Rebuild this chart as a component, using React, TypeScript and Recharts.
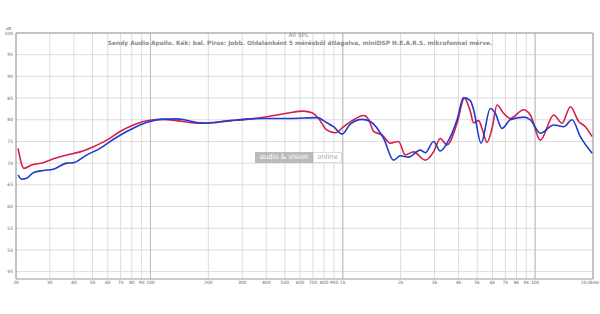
import React from 'react';
import { LineChart, Line, XAxis, YAxis, CartesianGrid, ReferenceLine } from 'recharts';

// Kék: bal (left), Piros: jobb (right) — [Hz, dB]
const leftFreqs = [20.5, 21.4, 22.7, 24.6, 27.7, 31.3, 36.7, 39.7, 46.7, 54.7, 64.2, 75.3, 88.3, 99.5, 112, 137, 181, 196, 260, 387, 533, 735, 828, 896, 991, 1094, 1259, 1390, 1630, 1837, 1991, 2199, 2530, 2686, 2966, 3215, 3484, 3927, 4248, 4604, 4789, 5236, 5850, 6209, 6730, 7431, 8720, 9441, 10645, 12500, 14090, 15570, 17190, 19790];
const leftDb = [67.3, 66.3, 66.5, 67.8, 68.3, 68.6, 70.0, 70.1, 71.9, 73.4, 75.5, 77.3, 78.8, 79.6, 80.1, 80.2, 79.3, 79.2, 79.8, 80.3, 80.3, 80.5, 79.3, 78.4, 76.7, 79.0, 80.1, 79.6, 75.7, 70.7, 71.7, 71.4, 73.0, 72.4, 75.0, 72.8, 74.6, 80.0, 85.1, 84.4, 82.3, 74.6, 82.6, 81.5, 78.0, 80.0, 80.6, 80.0, 76.9, 78.8, 78.4, 80.0, 76.1, 72.3];

const rightFreqs = [20.5, 22.0, 24.1, 27.7, 31.3, 36.7, 43.1, 50.5, 59.3, 69.5, 81.5, 91.9, 103.5, 117, 137, 181, 260, 317, 403, 512, 625, 692, 749, 828, 914, 1010, 1138, 1283, 1362, 1446, 1600, 1766, 1950, 2113, 2333, 2686, 2966, 3215, 3484, 3927, 4287, 4600, 4789, 5085, 5297, 5624, 5970, 6340, 6857, 7431, 8720, 9441, 10645, 12500, 13810, 15250, 16860, 18250, 19790];
const rightDb = [73.4, 68.8, 69.6, 70.1, 71.0, 71.9, 72.6, 73.8, 75.3, 77.3, 78.8, 79.6, 80.0, 80.1, 79.8, 79.2, 79.8, 80.1, 80.7, 81.5, 82.0, 81.6, 80.3, 77.6, 77.0, 78.4, 80.0, 81.0, 80.1, 77.3, 76.5, 74.6, 75.0, 71.9, 72.6, 70.7, 72.6, 75.7, 74.2, 79.2, 85.0, 82.0, 79.3, 79.8, 78.0, 74.8, 78.0, 83.4, 81.5, 80.3, 82.3, 81.1, 75.3, 81.1, 79.2, 83.0, 79.6, 78.4, 76.1];

const freqTicks = [20, 30, 40, 50, 60, 70, 80, 90, 100, 200, 300, 400, 500, 600, 700, 800, 900, 1000, 2000, 3000, 4000, 5000, 6000, 7000, 8000, 9000, 10000, 20000];
const dbTicks = [45, 50, 55, 60, 65, 70, 75, 80, 85, 90, 95, 100];

const leftData = leftFreqs.map((f, i) => ({ f, db: leftDb[i] }));
const rightData = rightFreqs.map((f, i) => ({ f, db: rightDb[i] }));

const fmtFreq = (v: number) => (v >= 20000 ? '20.0kHz' : v >= 1000 ? `${v / 1000}k` : `${v}`);

const font = '"DejaVu Sans", Verdana, sans-serif';
const tickStyle = { fontSize: 4.5, fill: '#666', fontFamily: font };

const FreqTick = (props: any) => {
  const { x, y, payload } = props;
  const last = payload.value >= 20000;
  return (
    <text x={last ? x - 3 : x} y={y + 5} textAnchor="middle" fontSize={4.5} fill="#666" fontFamily={font}>
      {fmtFreq(payload.value)}
    </text>
  );
};

export default function App() {
  return (
    <div style={{ position: 'absolute', left: 0, top: 0, width: 600, height: 314, background: '#fff', fontFamily: font }}>
      <LineChart width={600} height={314} margin={{ top: 33, right: 7, left: 0, bottom: 0 }}>
        <CartesianGrid stroke="#dcdcdc" strokeWidth={1} horizontalValues={dbTicks} verticalValues={freqTicks} />
        <XAxis
          dataKey="f"
          type="number"
          scale="log"
          domain={[20, 20000]}
          ticks={freqTicks}
          interval={0}
          allowDataOverflow
          height={35}
          tickSize={0}
          tickMargin={0}
          tick={<FreqTick />}
          axisLine={{ stroke: '#999' }}
        />
        <YAxis
          type="number"
          domain={[43.3, 100]}
          ticks={dbTicks}
          interval={0}
          allowDataOverflow
          width={16}
          tickSize={0}
          tickMargin={3}
          tick={tickStyle}
          axisLine={{ stroke: '#999' }}
        />
        <ReferenceLine x={100} stroke="#bdbdbd" />
        <ReferenceLine x={1000} stroke="#bdbdbd" />
        <ReferenceLine x={10000} stroke="#bdbdbd" />
        <ReferenceLine y={100} stroke="#999" />
        <ReferenceLine x={20000} stroke="#999" />
        <Line data={rightData} dataKey="db" type="monotone" stroke="#d51f4b" strokeWidth={1.6} dot={false} isAnimationActive={false} />
        <Line data={leftData} dataKey="db" type="monotone" stroke="#1f3ccf" strokeWidth={1.6} dot={false} isAnimationActive={false} />
      </LineChart>

      <div style={{ position: 'absolute', left: 6, top: 26, fontSize: 4, color: '#666' }}>dB</div>
      <div style={{ position: 'absolute', left: 0, width: 597, top: 31, textAlign: 'center', fontSize: 6, color: '#888', lineHeight: '8px' }}>
        All SPL
      </div>
      <div style={{ position: 'absolute', left: 0, width: 600, top: 39, textAlign: 'center', fontSize: 5.85, fontWeight: 'bold', color: '#888', lineHeight: '8px' }}>
        Sendy Audio Apollo. Kék: bal. Piros: Jobb. Oldalanként 5 mérésből átlagolva, miniDSP H.E.A.R.S. mikrofonnal mérve.
      </div>

      <div style={{ position: 'absolute', left: 255, top: 152, height: 11, display: 'flex', fontSize: 6.8, lineHeight: '11px' }}>
        <div style={{ width: 58, background: 'rgba(160,160,160,0.7)', color: '#fff', textAlign: 'center' }}>audio &amp; vision</div>
        <div style={{ width: 29, background: '#fff', color: '#aaa', border: '1px solid #ddd', boxSizing: 'border-box', textAlign: 'center', lineHeight: '9px' }}>online</div>
      </div>
    </div>
  );
}
